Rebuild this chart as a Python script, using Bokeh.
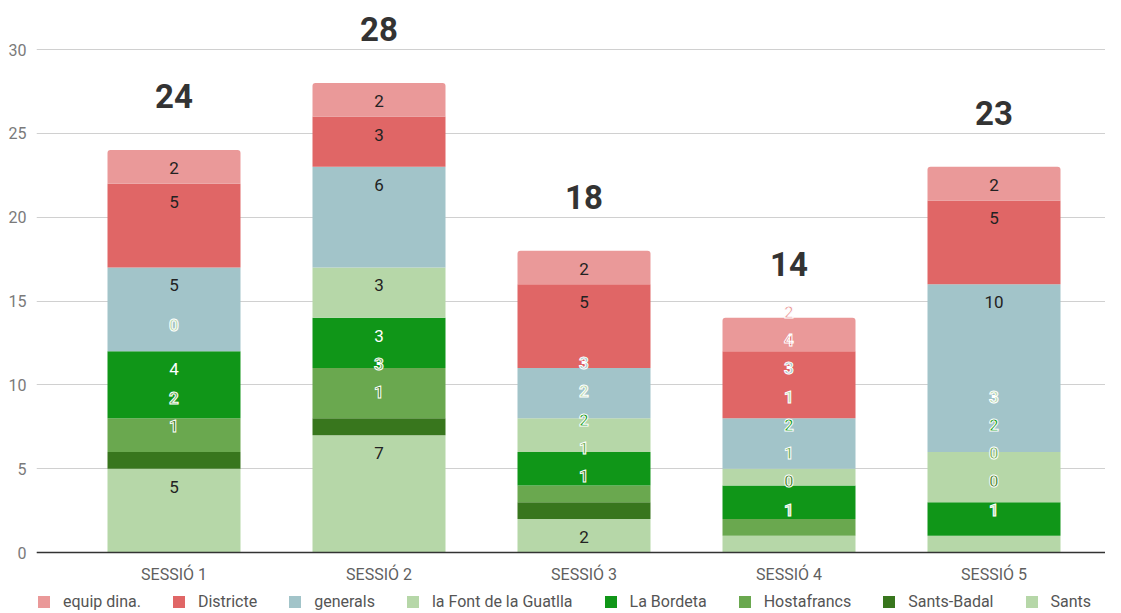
from bokeh.plotting import figure
from bokeh.models import Legend, LegendItem, FixedTicker, Range1d
from bokeh.embed import file_html
from bokeh.resources import INLINE
from bokeh.core.properties import value

# ---------------- data ----------------
categories = ["SESSIÓ 1", "SESSIÓ 2", "SESSIÓ 3", "SESSIÓ 4", "SESSIÓ 5"]
# stacking order, bottom to top
series_names = ["Sants", "Sants-Badal", "Hostafrancs", "La Bordeta",
                "la Font de la Guatlla", "generals", "Districte", "equip dina."]
sants = [5, 7, 2, 1, 1]
sants_badal = [1, 1, 1, 0, 0]
hostafrancs = [2, 3, 1, 1, 0]
la_bordeta = [4, 3, 2, 2, 2]
font_guatlla = [0, 3, 2, 1, 3]
generals = [5, 6, 3, 3, 10]
districte = [5, 3, 5, 4, 5]
equip_dina = [2, 2, 2, 2, 2]
y_ticks = [0, 5, 10, 15, 20, 25, 30]

series_values = [sants, sants_badal, hostafrancs, la_bordeta,
                 font_guatlla, generals, districte, equip_dina]
colors = ["#b6d7a8", "#38761d", "#6aa84f", "#109618",
          "#b6d7a8", "#a2c4c9", "#e06666", "#ea9999"]
dark_bg = ["#38761d", "#109618"]

# ---------------- layout ----------------
W, H = 1105, 613
B_L, B_T, B_R, B_B = 36, 0, 0, 0
BASE = 552                    # px of the zero line from the figure top
FRAME_H = H - B_T - B_B
FRAME_W = W - B_L - B_R
PPU = 503 / 30.0              # pixels per unit on y
Y_END = (BASE - B_T) / PPU
Y_START = -(H - B_B - BASE) / PPU
BAND = 205.0                  # pixels per category
FIRST = 137.5                 # px from frame left to first category centre
X_START = 1 - FIRST / BAND
X_END = X_START + FRAME_W / BAND
BAR_W = 133 / BAND

FONT = "Roboto"

p = figure(width=W, height=H, output_backend="svg", toolbar_location=None,
           x_range=Range1d(X_START, X_END), y_range=Range1d(Y_START, Y_END),
           min_border_left=B_L, min_border_top=B_T, min_border_bottom=B_B,
           min_border_right=B_R)
p.outline_line_color = None
p.background_fill_color = "white"
p.border_fill_color = "white"

xs = [i + 1 for i in range(len(categories))]

# ---------------- bars ----------------
renderers = []
cum = [0] * len(xs)
for k, (name, vals, col) in enumerate(zip(series_names, series_values, colors)):
    bottoms = list(cum)
    tops = [b + v for b, v in zip(bottoms, vals)]
    kw = {}
    if k == len(series_names) - 1:
        kw["border_radius"] = (3, 3, 0, 0)
    r = p.vbar(x=xs, bottom=bottoms, top=tops, width=BAR_W,
               fill_color=col, line_color=None, **kw)
    renderers.append(r)
    cum = tops

totals = cum

# ---------------- data labels (bottom-up collision layout) ----------------
IN_OFF = 18 / PPU
OUT_OFF = 26 / PPU
MIN_GAP = 27.5 / PPU
STEP = 28.3 / PPU
FIT = 30 / PPU

plain = dict(x=[], y=[], text=[], color=[])
halo = dict(x=[], y=[], text=[], color=[])
for i, x in enumerate(xs):
    c = 0
    prev = None
    for k, vals in enumerate(series_values):
        v = vals[i]
        top = c + v
        if v >= FIT:
            y = top - IN_OFF
            inside = True
        else:
            y = top + OUT_OFF
            inside = False
        if prev is not None and y - prev < MIN_GAP:
            y = prev + STEP
            inside = False
        prev = y
        c = top
        if inside:
            plain["x"].append(x); plain["y"].append(y); plain["text"].append(str(v))
            plain["color"].append("white" if colors[k] in dark_bg else "#222222")
        else:
            halo["x"].append(x); halo["y"].append(y); halo["text"].append(str(v))
            halo["color"].append(colors[k])

p.text(x=plain["x"], y=plain["y"], text=plain["text"], text_color=plain["color"],
       text_font=value(FONT), text_font_size="17px",
       text_align="center", text_baseline="middle")
p.text(x=halo["x"], y=halo["y"], text=halo["text"], text_color=halo["color"],
       text_outline_color="white",
       text_font=value(FONT), text_font_size="17px", text_font_style="bold",
       text_align="center", text_baseline="middle")

# ---------------- totals ----------------
TOT_OFF = 54 / PPU
p.text(x=xs, y=[t + TOT_OFF for t in totals], text=[str(t) for t in totals],
       text_color="#333333", text_font=value(FONT), text_font_size="33px",
       text_font_style="bold", text_align="center", text_baseline="middle")

# ---------------- axes / grid ----------------
p.xgrid.grid_line_color = None
p.ygrid.ticker = FixedTicker(ticks=y_ticks)
p.ygrid.grid_line_color = "#d0d0d0"
p.ygrid.grid_line_width = 1

p.yaxis.ticker = FixedTicker(ticks=y_ticks)
p.yaxis.axis_line_color = None
p.yaxis.major_tick_line_color = None
p.yaxis.minor_tick_line_color = None
p.yaxis.major_tick_out = 0
p.yaxis.major_label_standoff = 10
p.yaxis.major_label_text_font = FONT
p.yaxis.major_label_text_font_size = "16px"
p.yaxis.major_label_text_color = "#7a7a7a"

p.xaxis.fixed_location = 0
p.xaxis.ticker = FixedTicker(ticks=xs)
p.xaxis.major_label_overrides = {x: c for x, c in zip(xs, categories)}
p.xaxis.axis_line_color = "#333333"
p.xaxis.axis_line_width = 1.5
p.xaxis.major_tick_line_color = None
p.xaxis.minor_tick_line_color = None
p.xaxis.major_tick_out = 0
p.xaxis.major_tick_in = 0
p.xaxis.major_label_standoff = 12
p.xaxis.major_label_text_font = FONT
p.xaxis.major_label_text_font_size = "16px"
p.xaxis.major_label_text_color = "#5f5f5f"

# ---------------- legend ----------------
items = [LegendItem(label=n, renderers=[r])
         for n, r in zip(reversed(series_names), reversed(renderers))]
legend = Legend(items=items, orientation="horizontal", location=(0, 2),
                background_fill_alpha=0, border_line_color=None,
                padding=0, margin=0, spacing=30, label_standoff=12,
                glyph_width=15, glyph_height=15, label_height=15,
                label_text_font=FONT, label_text_font_size="16px",
                label_text_color="#555555", label_text_baseline="middle")
p.add_layout(legend)

open("out.html", "w").write(file_html(p, INLINE))
